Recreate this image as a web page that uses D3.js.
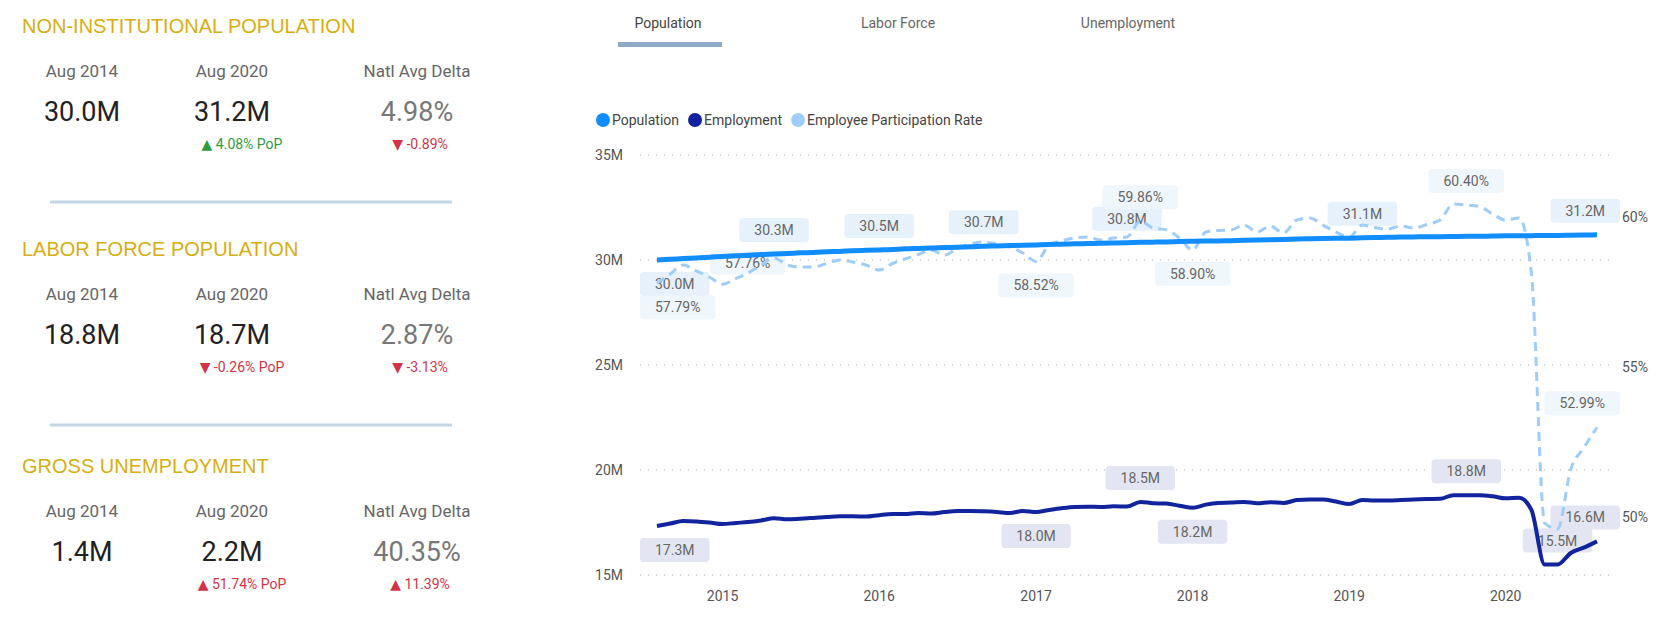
<!DOCTYPE html>
<html>
<head>
<meta charset="utf-8">
<script src="https://cdn.jsdelivr.net/npm/d3@7"></script>
<style>
  body { margin: 0; background: #fff; }
  text { font-family: Roboto, "DejaVu Sans", sans-serif; }
</style>
</head>
<body>
<div id="chart"></div>
<script>
// KPI data
const kpiTitles = ["NON-INSTITUTIONAL POPULATION", "LABOR FORCE POPULATION", "GROSS UNEMPLOYMENT"];
const kpiStart = ["30.0M", "18.8M", "1.4M"];
const kpiEnd = ["31.2M", "18.7M", "2.2M"];
const kpiDelta = ["4.98%", "2.87%", "40.35%"];
const kpiPop = [["▲", "4.08% PoP", true], ["▼", "-0.26% PoP", false], ["▲", "51.74% PoP", false]];
const kpiNat = [["▼", "-0.89%"], ["▼", "-3.13%"], ["▲", "11.39%"]];

// monthly series, Aug 2014 .. Aug 2020
const startMonth = new Date(2014, 7, 1);
const population = [30.00,30.03,30.07,30.10,30.13,30.17,30.20,30.23,30.26,30.29,30.31,30.34,30.36,30.39,30.41,30.44,30.46,30.48,30.50,30.53,30.55,30.57,30.59,30.61,30.63,30.66,30.67,30.69,30.70,30.72,30.74,30.75,30.77,30.78,30.80,30.81,30.82,30.84,30.85,30.86,30.88,30.89,30.90,30.91,30.92,30.94,30.95,30.96,30.98,31.00,31.01,31.02,31.03,31.04,31.06,31.07,31.08,31.09,31.10,31.11,31.11,31.12,31.13,31.13,31.14,31.15,31.15,31.16,31.17,31.17,31.18,31.19,31.20];
const employment = [17.33,17.45,17.57,17.55,17.50,17.43,17.48,17.52,17.60,17.70,17.65,17.68,17.72,17.76,17.80,17.80,17.78,17.85,17.90,17.90,17.95,17.93,18.00,18.05,18.05,18.03,18.00,17.95,18.05,18.00,18.10,18.18,18.24,18.25,18.24,18.27,18.26,18.48,18.42,18.40,18.30,18.20,18.35,18.43,18.45,18.48,18.42,18.47,18.43,18.57,18.60,18.60,18.50,18.38,18.57,18.55,18.55,18.57,18.60,18.62,18.63,18.80,18.80,18.80,18.75,18.65,18.68,18.10,15.50,15.50,16.05,16.30,16.60];
const participation = [57.79,58.10,58.40,58.20,58.00,57.76,57.95,58.13,58.40,58.63,58.40,58.33,58.33,58.45,58.57,58.50,58.40,58.23,58.45,58.60,58.75,58.90,58.73,58.95,59.10,59.17,59.10,59.00,58.80,58.52,59.07,59.20,59.30,59.33,59.23,59.30,59.33,59.86,59.63,59.57,59.30,58.90,59.50,59.55,59.57,59.73,59.50,59.70,59.47,59.90,59.97,59.73,59.50,59.33,59.73,59.65,59.60,59.70,59.63,59.75,59.90,60.43,60.40,60.35,60.10,59.90,59.97,58.13,49.80,49.60,51.60,52.30,52.99];

// ticks
const leftTicks = [15, 20, 25, 30, 35];
const rightTicks = [50, 55, 60];
const yearTicks = [2015, 2016, 2017, 2018, 2019, 2020];
const tabs = ["Population", "Labor Force", "Unemployment"];

// data labels: [month index, side]
const popLabels = [[0, 1], [9, -1], [17, -1], [25, -1], [36, -1], [54, -1], [72, -1]];
const empLabels = [[0, 1], [29, 1], [37, -1], [41, 1], [62, -1], [69, -1], [72, -1]];
const rateLabels = [[0, 1], [5, -0.9], [29, 1], [37, -1], [41, 1], [62, -1], [72, -1]];

const colors = {pop: "#118DFF", emp: "#12239E", rate: "#9FCDF7"};
const W = 1677, H = 628;

const svg = d3.select("#chart").append("svg").attr("width", W).attr("height", H);

// left KPI panel
const tops = [0, 223, 440];
kpiTitles.forEach((t, i) => {
    const g = svg.append("g").attr("transform", `translate(0, ${tops[i]})`);
    g.append("text").attr("x", 22).attr("y", 33).attr("fill", "#D6AE12")
        .style("font-family", "'Liberation Sans', Arial").attr("font-size", 20).text(t);
    [[82, "Aug 2014"], [232, "Aug 2020"], [417, "Natl Avg Delta"]].forEach(([x, s]) => {
        g.append("text").attr("x", x).attr("y", 77).attr("text-anchor", "middle")
            .attr("fill", "#666").attr("font-size", 17).text(s);
    });
    g.append("text").attr("x", 82).attr("y", 121).attr("text-anchor", "middle")
        .attr("fill", "#222").attr("font-size", 27).text(kpiStart[i]);
    g.append("text").attr("x", 232).attr("y", 121).attr("text-anchor", "middle")
        .attr("fill", "#222").attr("font-size", 27).text(kpiEnd[i]);
    g.append("text").attr("x", 417).attr("y", 121).attr("text-anchor", "middle")
        .attr("fill", "#777").attr("font-size", 27).text(kpiDelta[i]);
    const popCol = kpiPop[i][2] ? "#2E9B3E" : "#D13447";
    g.append("text").attr("x", 242).attr("y", 149).attr("text-anchor", "middle")
        .attr("fill", popCol).attr("font-size", 14).text(kpiPop[i][0] + " " + kpiPop[i][1]);
    g.append("text").attr("x", 420).attr("y", 149).attr("text-anchor", "middle")
        .attr("fill", "#D13447").attr("font-size", 14).text(kpiNat[i][0] + " " + kpiNat[i][1]);
    if (i < 2) {
        g.append("line").attr("x1", 50).attr("x2", 452).attr("y1", 202).attr("y2", 202)
            .attr("stroke", "#C5D5E6").attr("stroke-width", 3);
    }
});

// tabs
const tabX = d3.scalePoint().domain(tabs).range([668, 1128]);
tabs.forEach(t => {
    svg.append("text").attr("x", tabX(t)).attr("y", 28).attr("text-anchor", "middle")
        .attr("fill", t === "Population" ? "#444" : "#666").attr("font-size", 14).text(t);
});
svg.append("rect").attr("x", 618).attr("y", 42).attr("width", 104).attr("height", 5).attr("fill", "#8FAAC6");

// legend
const legendItems = [["Population", colors.pop], ["Employment", colors.emp], ["Employee Participation Rate", colors.rate]];
let lx = 597;
legendItems.forEach(([name, c]) => {
    svg.append("circle").attr("cx", lx + 6).attr("cy", 120).attr("r", 7).attr("fill", c);
    const t = svg.append("text").attr("x", lx + 15).attr("y", 125).attr("fill", "#444")
        .attr("font-size", 14).text(name);
    lx += 15 + t.node().getComputedTextLength() + 10;
});

// scales
const months = population.map((_, i) => d3.timeMonth.offset(startMonth, i));
const x = d3.scaleTime().domain([months[0], months[months.length - 1]]).range([657, 1597]);
const yL = d3.scaleLinear().domain([15, 35]).range([575, 155]);
const yR = d3.scaleLinear().domain([50, 60]).range([517, 217]);

// gridlines + axes
leftTicks.forEach(v => {
    svg.append("line").attr("x1", 640).attr("x2", 1615).attr("y1", yL(v)).attr("y2", yL(v))
        .attr("stroke", "#C8C8C8").attr("stroke-dasharray", "1,7").attr("stroke-width", 1.5);
    svg.append("text").attr("x", 623).attr("y", yL(v) + 5).attr("text-anchor", "end")
        .attr("fill", "#555").attr("font-size", 14).text(v + "M");
});
rightTicks.forEach(v => {
    svg.append("text").attr("x", 1622).attr("y", yR(v) + 5).attr("fill", "#555")
        .attr("font-size", 14).text(v + "%");
});
yearTicks.forEach(yr => {
    svg.append("text").attr("x", x(new Date(yr, 0, 1))).attr("y", 601).attr("text-anchor", "middle")
        .attr("fill", "#555").attr("font-size", 14).text(yr);
});

// lines
const lineL = d3.line().x((d, i) => x(months[i])).y(d => yL(d)).curve(d3.curveMonotoneX);
const lineR = d3.line().x((d, i) => x(months[i])).y(d => yR(d)).curve(d3.curveMonotoneX);

const labelLayer = svg.append("g");
svg.append("path").datum(participation).attr("d", lineR).attr("fill", "none")
    .attr("stroke", colors.rate).attr("stroke-width", 3).attr("stroke-dasharray", "9,6");
svg.append("path").datum(employment).attr("d", lineL).attr("fill", "none")
    .attr("stroke", colors.emp).attr("stroke-width", 4);
svg.append("path").datum(population).attr("d", lineL).attr("fill", "none")
    .attr("stroke", colors.pop).attr("stroke-width", 5);

// data labels
function addLabel(px, py, side, txt, bg) {
    const cy = py + side * 24;
    const t = labelLayer.append("text").attr("font-size", 14).attr("fill", "#666")
        .attr("text-anchor", "middle").text(txt);
    const w = t.node().getComputedTextLength() + 30;
    const cx = Math.max(640 + w / 2, Math.min(1620 - w / 2, px + (Math.abs(side) < 1 ? 25 : 0)));
    t.attr("x", cx).attr("y", cy + 5);
    labelLayer.insert("rect", "text").attr("x", cx - w / 2).attr("y", cy - 12)
        .attr("width", w).attr("height", 24).attr("rx", 4).attr("fill", bg);
}
const fmtM = d3.format(".1f");
const fmtP = d3.format(".2f");
popLabels.forEach(([i, s]) => addLabel(x(months[i]), yL(population[i]), s, fmtM(population[i]) + "M", "#E6F1FC"));
empLabels.forEach(([i, s]) => addLabel(x(months[i]), yL(employment[i]), s, fmtM(employment[i]) + "M", "#E3E6F2"));
rateLabels.forEach(([i, s]) => addLabel(x(months[i]), yR(participation[i]), s, fmtP(participation[i]) + "%", "rgba(236,244,252,0.85)"));
</script>
</body>
</html>
